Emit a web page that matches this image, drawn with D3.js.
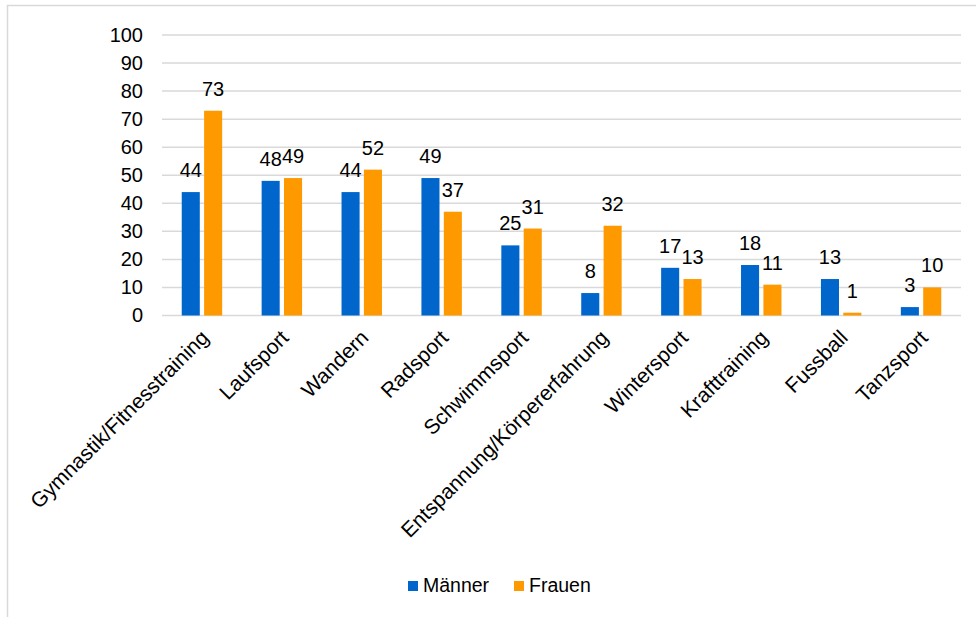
<!DOCTYPE html>
<html>
<head>
<meta charset="utf-8">
<script src="https://cdn.jsdelivr.net/npm/d3@7"></script>
<style>
  html, body { margin: 0; padding: 0; background: #fff; }
  svg { display: block; font-family: "Liberation Sans", Arial, sans-serif; }
</style>
</head>
<body>
<svg id="chart" width="976" height="617"></svg>
<script>
// Sportarten nach Geschlecht (Anteil in %)
const categories = [
  "Gymnastik/Fitnesstraining", "Laufsport", "Wandern", "Radsport", "Schwimmsport",
  "Entspannung/Körpererfahrung", "Wintersport", "Krafttraining", "Fussball", "Tanzsport"
];
const maenner = [44, 48, 44, 49, 25, 8, 17, 18, 13, 3];
const frauen  = [73, 49, 52, 37, 31, 32, 13, 11, 1, 10];
const seriesNames = ["Männer", "Frauen"];
const seriesColors = ["#0066CC", "#FF9900"];
const yTicks = [0, 10, 20, 30, 40, 50, 60, 70, 80, 90, 100];

const svg = d3.select("#chart");
const W = 976, H = 617;

// frame
svg.append("path")
  .attr("d", `M7.5,${H} V5.5 H${W}`)
  .attr("fill", "none").attr("stroke", "#d9d9d9").attr("stroke-width", 1.5);

const plot = { left: 162, right: 961, top: 35, bottom: 315.5 };

const x = d3.scaleBand().domain(categories).range([plot.left, plot.right]).padding(0);
const y = d3.scaleLinear().domain([0, 100]).range([plot.bottom, plot.top]);

// gridlines
svg.append("g").selectAll("line").data(yTicks).join("line")
  .attr("x1", plot.left).attr("x2", plot.right)
  .attr("y1", d => y(d)).attr("y2", d => y(d))
  .attr("stroke", "#d9d9d9").attr("stroke-width", 1.5);

// y axis labels
const yAxis = d3.axisLeft(y).tickValues(yTicks).tickSize(0).tickPadding(19);
const gy = svg.append("g").attr("transform", `translate(${plot.left},0)`).call(yAxis);
gy.select(".domain").remove();
gy.selectAll("text").attr("font-size", 20).attr("fill", "#000")
  .attr("font-family", "Liberation Sans, Arial, sans-serif");

// bars
const barW = x.bandwidth() * 0.226;
const offset = x.bandwidth() * 0.14;
const series = [maenner, frauen];
series.forEach((vals, si) => {
  const cx = c => x(c) + x.bandwidth() / 2 + (si === 0 ? -offset : offset);
  const g = svg.append("g");
  g.selectAll("rect").data(categories).join("rect")
    .attr("x", (c) => cx(c) - barW / 2)
    .attr("width", barW)
    .attr("y", (c, i) => y(vals[i]))
    .attr("height", (c, i) => y(0) - y(vals[i]))
    .attr("fill", seriesColors[si]);
  g.selectAll("text").data(categories).join("text")
    .attr("x", c => cx(c))
    .attr("y", (c, i) => y(vals[i]) - 15)
    .attr("text-anchor", "middle")
    .attr("font-size", 20)
    .attr("fill", "#000")
    .text((c, i) => vals[i]);
});

// category labels
svg.append("g").selectAll("text").data(categories).join("text")
  .attr("transform", c => `translate(${x(c) + x.bandwidth() / 2 + 8},339) rotate(-45)`)
  .attr("text-anchor", "end")
  .attr("font-size", 21)
  .attr("fill", "#000")
  .text(c => c);

// legend
const legendItems = [
  { name: seriesNames[0], color: seriesColors[0], x: 408 },
  { name: seriesNames[1], color: seriesColors[1], x: 514 }
];
const lg = svg.append("g");
legendItems.forEach(it => {
  lg.append("rect").attr("x", it.x).attr("y", 581).attr("width", 10).attr("height", 10).attr("fill", it.color);
  lg.append("text").attr("x", it.x + 15).attr("y", 592).attr("font-size", 19.5).attr("fill", "#000").text(it.name);
});
</script>
</body>
</html>
